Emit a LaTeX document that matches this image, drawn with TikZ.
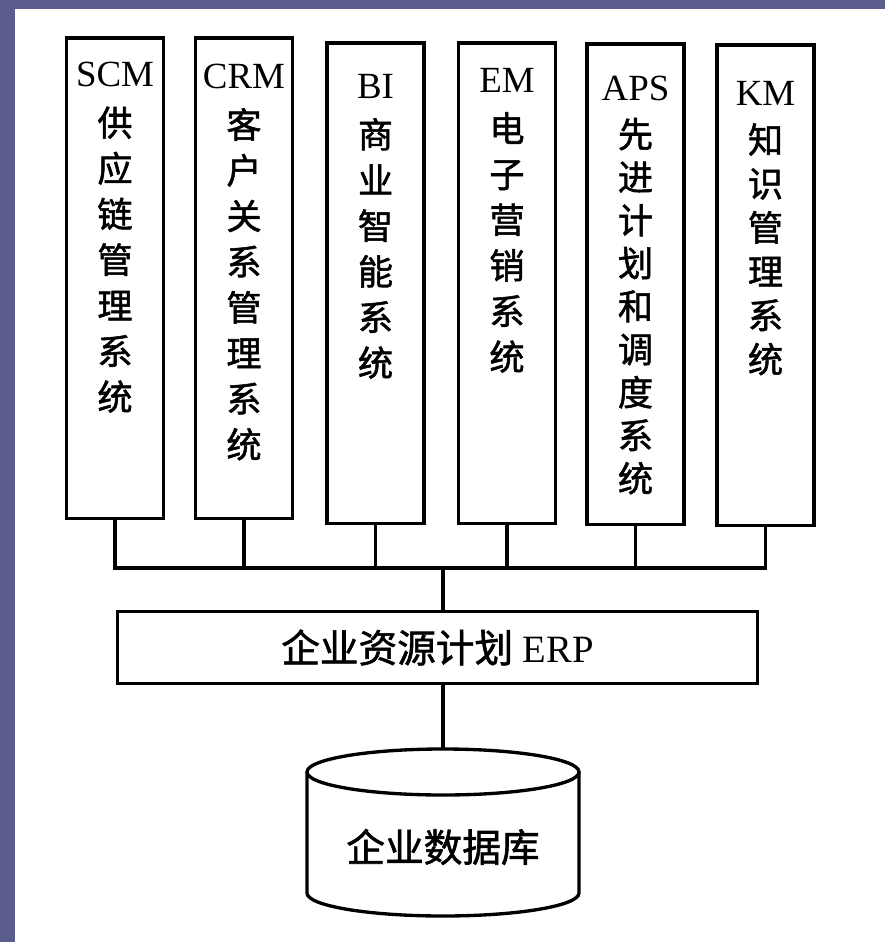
\documentclass[tikz,border=0pt]{standalone}
\usepackage{fontspec}
\setmainfont{Liberation Serif}
\newfontfamily\cjk[FakeBold=1.5]{Noto Sans CJK SC}
\usetikzlibrary{positioning}
\definecolor{slideblue}{RGB}{91,93,142}
\tikzstyle{sysbox}=[rectangle, draw, line width=2pt, minimum width=1.94cm, minimum height=9.62cm, anchor=north, inner sep=0pt]
\tikzstyle{systext}=[anchor=north, align=center, inner sep=0pt, font=\cjk\fontsize{20}{26}\selectfont]
\tikzstyle{erpbox}=[rectangle, draw, line width=2pt, minimum width=12.8cm, minimum height=1.44cm, inner sep=0pt, font=\fontsize{22}{26}\selectfont]
\tikzstyle{wire}=[line width=1.9pt]
\newcommand{\sysbox}{\node[sysbox]}
\newcommand{\systext}{\node[systext]}
\newcommand{\sysname}[1]{{\rmfamily\fontsize{21}{26}\selectfont #1}}

\begin{document}
\begin{tikzpicture}[x=0.02cm, y=-0.02cm]
\useasboundingbox (0,0) rectangle (885,942);
\fill[slideblue] (0,0) rectangle (885,942);
\fill[white] (15,9) rectangle (885,942);

% the six systems
    \sysbox (scm) at (115,36) {};
    \sysbox (crm) at (244,36) {};
    \sysbox (bi) at (375.5,41) {};
    \sysbox (em) at (507,41) {};
    \sysbox (aps) at (635.5,42) {};
    \sysbox (km) at (765.5,43) {};

    \systext (scmtext) at (115,62) {\sysname{SCM}\\[2pt]供\\应\\链\\管\\理\\系\\统};
    \systext (crmtext) at (244,64) {\sysname{CRM}\\[2pt]客\\户\\关\\系\\管\\理\\系\\统};
    \systext (bitext) at (375.5,74) {\sysname{BI}\\[2pt]商\\业\\智\\能\\系\\统};
    \systext (emtext) at (507,68) {\sysname{EM}\\[2pt]电\\子\\营\\销\\系\\统};
    \systext[font=\cjk\fontsize{20}{24.5}\selectfont] (apstext) at (635.5,76) {\sysname{APS}\\[2pt]先\\进\\计\\划\\和\\调\\度\\系\\统};
    \systext[font=\cjk\fontsize{20}{25}\selectfont] (kmtext) at (765.5,81) {\sysname{KM}\\[2pt]知\\识\\管\\理\\系\\统};

% bus
\coordinate (bus) at (443,568);
\draw[wire] (scm.south) |- (km.south |- bus) -- (km.south);
\foreach \s in {crm,bi,em,aps}
    \draw[wire] (\s.south) -- (\s.south |- bus);

% ERP and database
\node[erpbox] (erp) at (437.5,647.5) {{\cjk 企业资源计划} ERP};
\coordinate (dbtop) at (443,749.5);
\draw[wire] (bus) -- (dbtop |- erp.north);
\draw[wire] (dbtop |- erp.south) -- (dbtop);

\draw[wire] (443,772) ellipse [x radius=136, y radius=23];
\draw[wire] (307,772) -- (307,893) arc[start angle=180, end angle=0, x radius=136, y radius=23] -- (579,772);
\node[font=\cjk\fontsize{22}{26}\selectfont] (db) at (443,847) {企业数据库};
\end{tikzpicture}
\end{document}
